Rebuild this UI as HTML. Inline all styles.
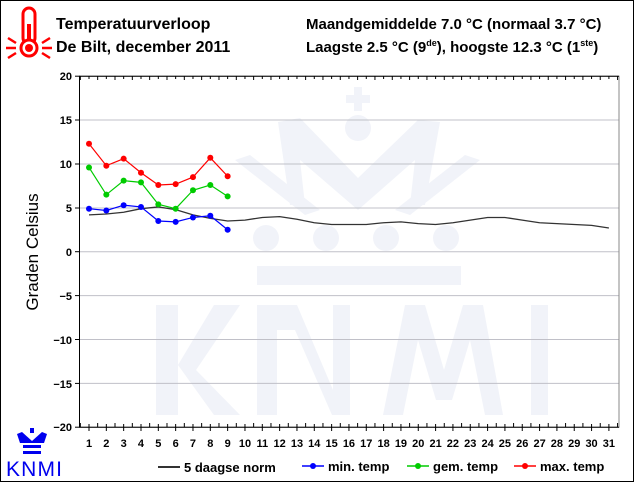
<!DOCTYPE html>
<html><head><meta charset="utf-8"><style>
html,body{margin:0;padding:0;background:#fff}
svg{display:block}
text{font-family:"Liberation Sans",Arial,sans-serif}
</style></head><body>
<svg width="634" height="482" viewBox="0 0 634 482" xmlns="http://www.w3.org/2000/svg">
<rect x="0.5" y="0.5" width="633" height="481" fill="#fff" stroke="#000"/>
<!-- watermark -->
<g fill="#f1f3f9">
<rect x="156" y="305" width="22" height="110"/>
<polygon points="178,365 214,305 240,305 196,370 240,415 214,415"/>
<rect x="257" y="305" width="20" height="110"/>
<polygon points="277,305 297,305 333,390 333,305 350,305 350,415 332,415 295,330 277,330"/>
<polygon points="383,415 405,305 425,305 444,370 463,305 483,305 503,415 485,415 470,340 452,400 436,400 418,340 403,415"/>
<rect x="531" y="305" width="17" height="110"/>
<rect x="257" y="266" width="204" height="19"/>
<circle cx="266" cy="238" r="13"/><circle cx="326" cy="238" r="13"/><circle cx="386" cy="238" r="13"/><circle cx="446" cy="238" r="13"/>
<circle cx="358" cy="128" r="13"/><rect x="354" y="87" width="8" height="24"/><rect x="346" y="95" width="24" height="8"/>
<polygon points="278,122 300,118 358,178 418,120 440,122 425,205 410,205 415,160 358,210 300,160 305,205 290,205"/>
<polygon points="235,160 250,155 320,210 305,215"/>
<polygon points="480,160 465,155 395,210 410,215"/>
</g>
<!-- grid -->
<g stroke="#c0c0c8" stroke-width="1">
<line x1="80" y1="120" x2="619" y2="120"/><line x1="80" y1="164" x2="619" y2="164"/>
<line x1="80" y1="208" x2="619" y2="208"/><line x1="80" y1="251.7" x2="619" y2="251.7"/>
<line x1="80" y1="295.6" x2="619" y2="295.6"/><line x1="80" y1="339.5" x2="619" y2="339.5"/>
<line x1="80" y1="383.4" x2="619" y2="383.4"/>
</g>
<g stroke="#888" stroke-width="1" fill="none">
<rect x="79.5" y="76.2" width="539.5" height="351"/>
</g>
<g stroke="#000" stroke-width="1">
<line x1="79.5" y1="76.2" x2="619" y2="76.2"/>
<line x1="79.5" y1="427.2" x2="619" y2="427.2"/>
<line x1="79.5" y1="76" x2="79.5" y2="427"/>
<line x1="75" y1="76.2" x2="80" y2="76.2"/><line x1="75" y1="120" x2="80" y2="120"/>
<line x1="75" y1="164" x2="80" y2="164"/><line x1="75" y1="208" x2="80" y2="208"/>
<line x1="75" y1="251.7" x2="80" y2="251.7"/><line x1="75" y1="295.6" x2="80" y2="295.6"/>
<line x1="75" y1="339.5" x2="80" y2="339.5"/><line x1="75" y1="383.4" x2="80" y2="383.4"/>
<line x1="75" y1="427.2" x2="80" y2="427.2"/>
</g>
<g id="ticks" stroke="#000" stroke-width="1"></g>
<g font-size="11" font-weight="bold" text-anchor="end" fill="#000">
<text x="72" y="80">20</text><text x="72" y="124">15</text><text x="72" y="168">10</text>
<text x="72" y="212">5</text><text x="72" y="256">0</text><text x="72" y="300">−5</text>
<text x="72" y="344">−10</text><text x="72" y="388">−15</text><text x="72" y="431">−20</text>
</g>
<g id="xl" font-size="11" font-weight="bold" text-anchor="middle" fill="#000"></g>
<text transform="translate(38,252) rotate(-90)" font-size="17" text-anchor="middle">Graden Celsius</text>
<g font-size="15" font-weight="bold" fill="#000">
<text x="56" y="29" font-size="16">Temperatuurverloop</text>
<text x="56" y="52" font-size="16">De Bilt, december 2011</text>
<text x="306" y="29">Maandgemiddelde 7.0 °C (normaal 3.7 °C)</text>
<text x="306" y="52">Laagste 2.5 °C (9<tspan font-size="9" dy="-6">de</tspan><tspan dy="6">), hoogste 12.3 °C (1</tspan><tspan font-size="9" dy="-6">ste</tspan><tspan dy="6">)</tspan></text>
</g>
<g fill="#f00" stroke="#f00">
<rect x="23" y="8" width="12" height="36" rx="6" fill="#fff" stroke-width="3"/>
<rect x="27" y="24" width="4" height="22" stroke="none"/>
<circle cx="29" cy="48" r="8" fill="#fff" stroke-width="3"/>
<circle cx="29" cy="48" r="4" stroke="none"/>
<g stroke-width="2.5"><line x1="6" y1="48" x2="16" y2="48"/><line x1="42" y1="48" x2="52" y2="48"/>
<line x1="8" y1="38" x2="16" y2="43"/><line x1="50" y1="38" x2="42" y2="43"/>
<line x1="8" y1="58" x2="16" y2="53"/><line x1="50" y1="58" x2="42" y2="53"/></g>
</g>
<g fill="#0000ee">
<rect x="23" y="451" width="18" height="3"/>
<rect x="23" y="445" width="18" height="3"/>
<polygon points="17,434 22,432 32,441 42,432 47,434 44,443 20,443"/>
<rect x="30" y="428" width="4" height="5"/>
<text x="34" y="476" font-size="21" text-anchor="middle" textLength="56" lengthAdjust="spacing">KNMI</text>
</g>
<g id="series"></g>
<g font-size="13" font-weight="bold" fill="#000">
<line x1="158" y1="467" x2="180" y2="467" stroke="#333" stroke-width="2"/>
<text x="184" y="472">5 daagse norm</text>
<line x1="302" y1="466" x2="324" y2="466" stroke="#00f" stroke-width="1.5"/><circle cx="313" cy="466" r="3" fill="#00f"/>
<text x="328" y="471">min. temp</text>
<line x1="407" y1="466" x2="429" y2="466" stroke="#0c0" stroke-width="1.5"/><circle cx="418" cy="466" r="3" fill="#0c0"/>
<text x="433" y="471">gem. temp</text>
<line x1="514" y1="466" x2="536" y2="466" stroke="#f00" stroke-width="1.5"/><circle cx="525" cy="466" r="3" fill="#f00"/>
<text x="540" y="471">max. temp</text>
</g>
</svg>
<script>
var NS="http://www.w3.org/2000/svg";
function X(d){return 89+(d-1)*17.33;}
function Y(v){return 251.7-v*8.775;}
var t=document.getElementById('ticks'),xl=document.getElementById('xl'),s=document.getElementById('series');
for(var d=0.5;d<=31.6;d+=1){var x=X(d);
 [[76.2,80],[423,427.2]].forEach(function(p){var l=document.createElementNS(NS,'line');l.setAttribute('x1',x);l.setAttribute('x2',x);l.setAttribute('y1',p[0]);l.setAttribute('y2',p[1]);t.appendChild(l);});}
for(var d=1;d<=31;d++){var x=X(d);
 [[76.2,79],[424,427.2],[427.2,431]].forEach(function(p){var l=document.createElementNS(NS,'line');l.setAttribute('x1',x);l.setAttribute('x2',x);l.setAttribute('y1',p[0]);l.setAttribute('y2',p[1]);t.appendChild(l);});
 var tx=document.createElementNS(NS,'text');tx.setAttribute('x',x);tx.setAttribute('y',447);tx.textContent=d;xl.appendChild(tx);}
function line(data,col,w,dots){var pts=data.map(function(v,i){return X(i+1)+','+Y(v);}).join(' ');
 var p=document.createElementNS(NS,'polyline');p.setAttribute('points',pts);p.setAttribute('fill','none');p.setAttribute('stroke',col);p.setAttribute('stroke-width',w);s.appendChild(p);
 if(dots)data.forEach(function(v,i){var c=document.createElementNS(NS,'circle');c.setAttribute('cx',X(i+1));c.setAttribute('cy',Y(v));c.setAttribute('r',3);c.setAttribute('fill',col);s.appendChild(c);});}
line([4.2,4.3,4.5,4.9,5.1,4.8,4.2,3.8,3.5,3.6,3.9,4.0,3.7,3.3,3.1,3.1,3.1,3.3,3.4,3.2,3.1,3.3,3.6,3.9,3.9,3.6,3.3,3.2,3.1,3.0,2.7],'#333',1.3,false);
line([4.9,4.7,5.3,5.1,3.5,3.4,3.9,4.1,2.5],'#00f',1.2,true);
line([9.6,6.5,8.1,7.9,5.4,4.9,7.0,7.6,6.3],'#0c0',1.2,true);
line([12.3,9.8,10.6,9.0,7.6,7.7,8.5,10.7,8.6],'#f00',1.2,true);
</script>
</body></html>
